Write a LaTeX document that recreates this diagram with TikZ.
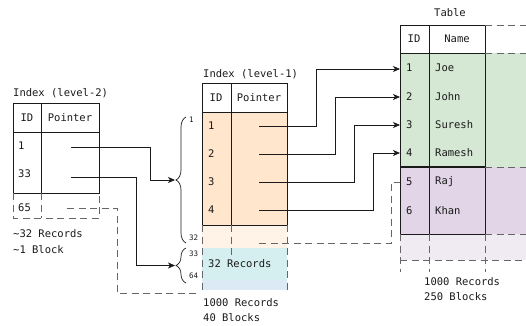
\documentclass[tikz,border=0pt]{standalone}
\usepackage{fontspec}
\setmonofont{DejaVu Sans Mono}
\usetikzlibrary{arrows.meta,decorations.pathreplacing}

\definecolor{orangeF}{HTML}{FFE6CC}
\definecolor{orangeL}{HTML}{FFF2E6}
\definecolor{blueF}{HTML}{D5EFF1}
\definecolor{blueL}{HTML}{DCEAF6}
\definecolor{greenF}{HTML}{D5E8D4}
\definecolor{purpleF}{HTML}{E1D5E7}
\definecolor{purpleL}{HTML}{F0EAF3}
\definecolor{ink}{HTML}{1A1A1A}

\begin{document}
\begin{tikzpicture}[x=1pt,y=-1pt,
  every node/.style={inner sep=0pt, text=ink, font=\ttfamily\fontsize{10.5}{12}\selectfont},
  cell/.style={anchor=west},
  hcell/.style={anchor=center},
  tiny/.style={anchor=west, font=\ttfamily\fontsize{7.5}{8}\selectfont},
  frame/.style={draw=ink, line width=0.8pt},
  thickframe/.style={draw=ink, line width=1.3pt},
  ghost/.style={draw=black!60, line width=0.9pt, dash pattern=on 7pt off 4.5pt},
  ptr/.style={draw=ink, line width=0.7pt, -{Stealth[length=7pt,width=6pt,inset=2pt]}},
  curly/.style={draw=ink, line width=0.7pt, decorate, decoration={brace, amplitude=10pt}},
]
\useasboundingbox (0,0) rectangle (526,325);

% ---------- Index (level-2) ----------
\node[cell] (l2title) at (13,93) {Index (level-2)};
\draw[frame] (13,103) rectangle (99,193);
\draw[frame] (13,132) -- (99,132);
\draw[frame] (41,103) -- (41,193);
\node[hcell] (l2id) at (27,118) {ID};
\node[hcell] (l2ptr) at (70,118) {Pointer};
\node[cell] (l2r1) at (18,146) {1};
\node[cell] (l2r2) at (18,174) {33};
% partially shown row 65
\draw[ghost] (13,193) -- (13,218) -- (99,218) -- (99,193);
\draw[ghost] (41,193) -- (41,218);
\node[cell] (l2r3) at (18,208) {65};
\node[cell] (l2rec) at (13,234) {\string~32 Records};
\node[cell] (l2blk) at (13,250) {\string~1 Block};

\coordinate (p21) at (71,147);
\coordinate (p22) at (71,177);
\coordinate (p23) at (67,208);

% ---------- Index (level-1) ----------
\node[cell] (l1title) at (203,74) {Index (level-1)};
\fill[orangeF] (202,112) rectangle (287,225);
\fill[orangeL] (202,225) rectangle (287,248);
\fill[blueF] (202,248) rectangle (287,280);
\fill[blueL] (202,280) rectangle (287,290);
\draw[frame] (202,83) rectangle (287,225);
\draw[frame] (202,112) -- (287,112);
\draw[frame] (231,83) -- (231,225);
\draw[ghost] (202,225) -- (202,290);
\draw[ghost] (287,225) -- (287,290);
\draw[ghost] (231,225) -- (231,255);
\node[hcell] (l1id) at (216,98) {ID};
\node[hcell] (l1ptr) at (259,98) {Pointer};
\node[cell] (l1r1) at (208,126) {1};
\node[cell] (l1r2) at (208,154) {2};
\node[cell] (l1r3) at (208,182) {3};
\node[cell] (l1r4) at (208,210) {4};
\node[cell] (l1blk2) at (208,264) {32 Records};
\node[cell] (l1rec) at (203,303) {1000 Records};
\node[cell] (l1blocks) at (203,318) {40 Blocks};

\coordinate (p11) at (259,126);
\coordinate (p12) at (259,154);
\coordinate (p13) at (259,182);
\coordinate (p14) at (259,210);
\coordinate (p15) at (259,243);
\coordinate (blk3) at (196,293);

% braces grouping the two level-1 blocks
\draw[curly] (186,243) -- (186,117);
\draw[curly] (186,283) -- (186,248);
\coordinate (brA) at (175,180);
\coordinate (brB) at (175,265.5);
\node[tiny] (bA1) at (189,120) {1};
\node[tiny] (bA2) at (189,238) {32};
\node[tiny] (bB1) at (189,254) {33};
\node[tiny] (bB2) at (189,276) {64};

% ---------- Table ----------
\node[hcell] (ttitle) at (450,13) {Table};
\fill[greenF] (400,53) rectangle (526,167);
\fill[purpleF] (400,167) rectangle (526,234);
\fill[purpleL] (400,234) rectangle (526,260);
\draw[frame] (485,25) -- (400,25) -- (400,234) -- (485,234);
\draw[frame] (400,53) -- (485,53);
\draw[frame] (429,25) -- (429,234);
\draw[frame] (485,25) -- (485,234);
\draw[thickframe] (400,167) -- (485,167);
\foreach \yy in {25,53,167,234} \draw[ghost] (485,\yy) -- (526,\yy);
\draw[ghost] (400,260) -- (526,260);
\foreach \xx in {400,429,485} \draw[ghost] (\xx,234) -- (\xx,272);
\node[hcell] (tid) at (414,39) {ID};
\node[hcell] (tname) at (457,39) {Name};
\node[cell] (t1) at (406,68) {1};  \node[cell] (n1) at (435,68) {Joe};
\node[cell] (t2) at (406,97) {2};  \node[cell] (n2) at (435,97) {John};
\node[cell] (t3) at (406,125) {3}; \node[cell] (n3) at (435,125) {Suresh};
\node[cell] (t4) at (406,153) {4}; \node[cell] (n4) at (435,153) {Ramesh};
\node[cell] (t5) at (406,182) {5}; \node[cell] (n5) at (435,182) {Raj};
\node[cell] (t6) at (406,211) {6}; \node[cell] (n6) at (435,211) {Khan};
\node[cell] (trec) at (424,282) {1000 Records};
\node[cell] (tblk) at (424,297) {250 Blocks};

\coordinate (r1) at (400,69);
\coordinate (r2) at (400,97);
\coordinate (r3) at (400,125);
\coordinate (r4) at (400,153);
\coordinate (r5) at (400,182);

% ---------- pointers ----------
\draw[ptr] (p21) -- (150,147) -- (150,180) -- (brA);
\draw[ptr] (p22) -- (136,177) -- (136,265.5) -- (brB);
\draw[ghost] (p23) -- (117,208) -- (117,293) -- (blk3);

\draw[ptr] (p11) -- (316,126) -- (316,69) -- (r1);
\draw[ptr] (p12) -- (335,154) -- (335,97) -- (r2);
\draw[ptr] (p13) -- (354,182) -- (354,125) -- (r3);
\draw[ptr] (p14) -- (373,210) -- (373,153) -- (r4);
\draw[ghost] (p15) -- (391,243) -- (391,182) -- (r5);
\end{tikzpicture}
\end{document}
